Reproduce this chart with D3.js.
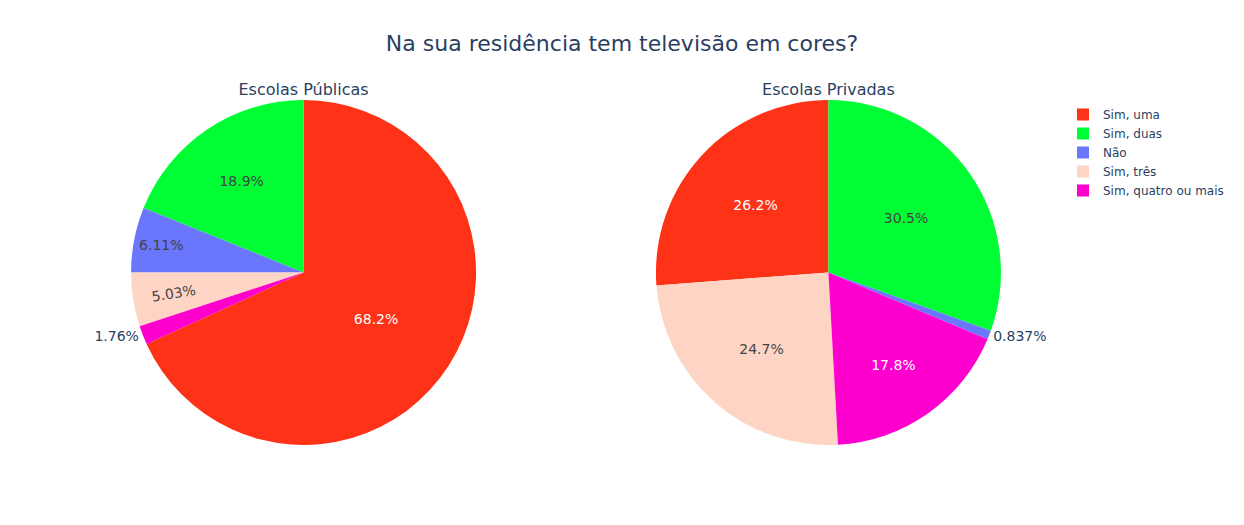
<!DOCTYPE html>
<html>
<head>
<meta charset="utf-8">
<script src="https://cdn.jsdelivr.net/npm/d3@7"></script>
<style>
  body { margin: 0; background: #fff; }
</style>
</head>
<body>
<script>
// data
const categories = ["Sim, uma", "Sim, duas", "Não", "Sim, três", "Sim, quatro ou mais"];
const publicValues = [68.2, 18.9, 6.11, 5.03, 1.76];
const privateValues = [26.2, 30.5, 0.837, 24.7, 17.8];
const sliceColors = ["#FD3216", "#00FE35", "#6A76FC", "#FED4C4", "#FE00CE"];
const panelTitles = ["Escolas Públicas", "Escolas Privadas"];
const chartTitle = "Na sua residência tem televisão em cores?";

const width = 1244;
const height = 525;
const margin = {top: 100, bottom: 80, left: 80};
const plotW = 972;
const plotH = height - margin.top - margin.bottom;
const domains = [[0, 0.46], [0.54, 1]];
const fontFamily = "'DejaVu Sans', Verdana, sans-serif";
const textSize = 14;
const textPad = 3;

const color = d3.scaleOrdinal().domain(categories).range(sliceColors);
const fmt = d3.format(".3~r");

const svg = d3.select("body")
  .append("svg")
  .attr("width", width)
  .attr("height", height)
  .style("font-family", fontFamily);

svg.append("text")
  .attr("x", width / 2)
  .attr("y", 51)
  .attr("text-anchor", "middle")
  .attr("fill", "#2a3f5f")
  .style("font-size", "22px")
  .text(chartTitle);

function isDark(c) {
  let rgb = d3.rgb(c);
  return (rgb.r * 299 + rgb.g * 587 + rgb.b * 114) / 1000 < 128;
}

// plotly-like placement of the slice text
function calcMaxHalfSize(a, halfAngle, r) {
  let q = a + 1 / (2 * Math.tan(halfAngle));
  return r * Math.min(1 / (Math.sqrt(q * q + 0.5) + q), 1 / (Math.sqrt(a * a + 0.5) + a));
}
function calcRotate(t) {
  return (180 / Math.PI * t + 720) % 180 - 90;
}
function radTransform(w, h, r, half, mid) {
  r = Math.max(0, r - 2 * textPad);
  let a = w / h;
  let s = calcMaxHalfSize(a, half, r);
  return {scale: s * 2 / h, rCenter: Math.cos(s / r) - a * s / r, rotate: calcRotate(mid)};
}
function tanTransform(w, h, r, half, mid) {
  r = Math.max(0, r - 2 * textPad);
  let a = h / w;
  let s = calcMaxHalfSize(a, half, r);
  return {scale: s * 2 / w, rCenter: Math.cos(s / r) - a * s / r, rotate: calcRotate(mid + Math.PI / 2)};
}
function insideTransform(w, h, r, half, mid) {
  let rIns = Math.min(1 / (1 + 1 / Math.sin(Math.min(half, Math.PI / 2))), 0.5);
  let t = {scale: rIns * r * 2 / Math.hypot(w, h), rCenter: 1 - rIns, rotate: 0};
  if (t.scale >= 1) return t;
  let opts = [tanTransform(w, h, r, half, mid), radTransform(w, h, r, half, mid)];
  return opts[0].scale > opts[1].scale ? opts[0] : opts[1];
}

function drawPie(values, title, dom) {
  const cx = margin.left + plotW * (dom[0] + dom[1]) / 2;
  const cy = margin.top + plotH / 2;
  const r = Math.min(plotW * (dom[1] - dom[0]), plotH) / 2;

  const rows = categories.map((c, i) => ({label: c, value: values[i]}));
  const total = d3.sum(values);
  // first (largest) slice ends at 12 o'clock, the rest run counterclockwise
  const a0 = d3.max(values) / total * 2 * Math.PI;
  const pie = d3.pie()
    .value(d => d.value)
    .sortValues(d3.descending)
    .startAngle(a0)
    .endAngle(a0 - 2 * Math.PI);
  const arcs = pie(rows);
  const arc = d3.arc().innerRadius(0).outerRadius(r);

  const g = svg.append("g").attr("transform", `translate(${cx},${cy})`);

  g.selectAll("path")
    .data(arcs)
    .enter()
    .append("path")
      .attr("d", arc)
      .attr("fill", d => color(d.data.label));

  const labels = g.selectAll("text.slice")
    .data(arcs)
    .enter()
    .append("text")
      .attr("class", "slice")
      .attr("text-anchor", "middle")
      .style("font-size", textSize + "px")
      .text(d => fmt(d.data.value / total * 100) + "%");

  labels.each(function (d) {
    let el = d3.select(this);
    let bb = this.getBBox();
    let w = bb.width, h = bb.height;
    let yOff = bb.y + bb.height / 2;
    let mid = (d.startAngle + d.endAngle) / 2;
    let half = Math.abs(d.endAngle - d.startAngle) / 2;
    let t = insideTransform(w, h, r, half, mid);
    let px = r * Math.sin(mid), py = -r * Math.cos(mid);
    if (t.scale >= 1) {
      let sliceColor = color(d.data.label);
      el.attr("fill", isDark(sliceColor) ? "#fff" : "#444")
        .attr("transform", `translate(${px * t.rCenter},${py * t.rCenter}) rotate(${t.rotate}) translate(0,${-yOff})`);
    } else {
      let dx = w / 2, dy = h / 2;
      if (px < 0) dx *= -1;
      if (py < 0) dy *= -1;
      let ox = dx + Math.abs(dy) * (dx > 0 ? 1 : -1) / 2;
      let oy = dy / (1 + px * px / (py * py));
      el.attr("fill", "#2a3f5f")
        .attr("transform", `translate(${px + ox},${py + oy - yOff})`);
    }
  });

  svg.append("text")
    .attr("x", cx)
    .attr("y", 95)
    .attr("text-anchor", "middle")
    .attr("fill", "#2a3f5f")
    .style("font-size", "16px")
    .text(title);
}

drawPie(publicValues, panelTitles[0], domains[0]);
drawPie(privateValues, panelTitles[1], domains[1]);

// legend
const legend = svg.append("g")
  .attr("id", "legend")
  .attr("transform", "translate(1077,114.5)");

const items = legend.selectAll("g")
  .data(categories)
  .enter()
  .append("g")
    .attr("transform", (d, i) => `translate(0,${i * 19})`);

items.append("rect")
  .attr("x", 0)
  .attr("y", -6)
  .attr("width", 12)
  .attr("height", 12)
  .attr("fill", d => color(d));

items.append("text")
  .attr("x", 26)
  .attr("dy", "0.38em")
  .attr("fill", "#2a3f5f")
  .style("font-size", "12px")
  .text(d => d);
</script>
</body>
</html>
